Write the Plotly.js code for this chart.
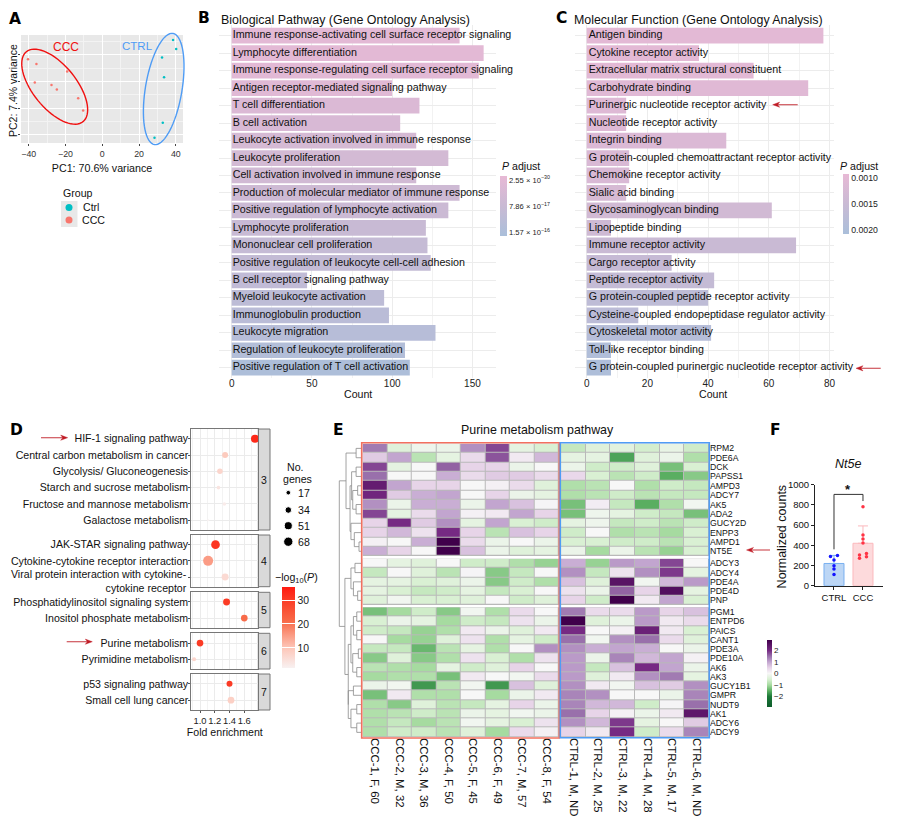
<!DOCTYPE html>
<html><head><meta charset="utf-8">
<script src="https://cdn.plot.ly/plotly-3.0.1.min.js"></script>
<style>html,body{margin:0;padding:0;background:#fff}#g{width:900px;height:825px}</style>
</head><body><div id="g"></div>
<script>
// ---------- Panel A data ----------
const pcaCccX=[-40.4,-35.8,-19.1,-36.7,-27.6,-24.7,-13.1,-10.4];
const pcaCccY=[8.4,6.6,3.8,-0.4,-1.25,-3,-6.25,-10.9];
const pcaCtrlX=[38.5,40.2,32.5,33.6,32.9,28.4];
const pcaCtrlY=[15.6,12.25,9,1.6,-15.5,-21.1];
// ---------- Panel B data ----------
const bpTerms=["Immune response-activating cell surface receptor signaling","Lymphocyte differentiation","Immune response-regulating cell surface receptor signaling","Antigen receptor-mediated signaling pathway","T cell differentiation","B cell activation","Leukocyte activation involved in immune response","Leukocyte proliferation","Cell activation involved in immune response","Production of molecular mediator of immune response","Positive regulation of lymphocyte activation","Lymphocyte proliferation","Mononuclear cell proliferation","Positive regulation of leukocyte cell-cell adhesion","B cell receptor signaling pathway","Myeloid leukocyte activation","Immunoglobulin production","Leukocyte migration","Regulation of leukocyte proliferation","Positive regulation of T cell activation"];
const bpCounts=[142,157,154,100,117,105,115,135,115,142,135,121,122,124,47,95,98,127,108,111];
const bpPadj=[0,0.01,0.02,0.1,0.25,0.32,0.42,0.48,0.55,0.62,0.72,0.8,0.88,0.95,1.02,1.12,1.2,1.3,1.42,1.57];
// ---------- Panel C data ----------
const mfTerms=["Antigen binding","Cytokine receptor activity","Extracellular matrix structural constituent","Carbohydrate binding","Purinergic nucleotide receptor activity","Nucleotide receptor activity","Integrin binding","G protein-coupled chemoattractant receptor activity","Chemokine receptor activity","Sialic acid binding","Glycosaminoglycan binding","Lipopeptide binding","Immune receptor activity","Cargo receptor activity","Peptide receptor activity","G protein-coupled peptide receptor activity","Cysteine-coupled endopeptidase regulator activity","Cytoskeletal motor activity","Toll-like receptor binding","G protein-coupled purinergic nucleotide receptor activity"];
const mfCounts=[78,37,55,73,13,13,46,14,14,13,61,8,69,28,42,40,17,41,8,8];
const mfPadj=[0.001,0.001,0.00102,0.00105,0.0011,0.0011,0.00115,0.0012,0.0012,0.00125,0.00135,0.0014,0.0015,0.00155,0.0016,0.0017,0.00175,0.00185,0.00195,0.002];
// ---------- Panel D data ----------
const keggGroups=["3","4","5","6","7"];
const keggTerms=[["HIF-1 signaling pathway","Central carbon metabolism in cancer","Glycolysis/ Gluconeogenesis","Starch and sucrose metabolism","Fructose and mannose metabolism","Galactose metabolism"],["JAK-STAR signaling pathway","Cytokine-cytokine receptor interaction","Viral protein interaction with cytokine-<br>cytokine receptor"],["Phosphatidylinositol signaling system","Inositol phosphate metabolism"],["Purine metabolism","Pyrimidine metabolism"],["p53 signaling pathway","Small cell lung cancer"]];
const keggFold=[[1.745,1.34,1.27,1.25,1.33,1.11],[1.21,1.11,1.34],[1.36,1.6],[1.0,0.92],[1.4,1.42]];
const keggGenes=[[50,28,24,10,10,3],[59,78,38],[38,35],[35,13],[28,35]];
const keggLogP=[[33,9,7,4,2.5,1.5],[31,15,6],[30,21],[30,7],[30,8]];
const sizeLegend=[17,34,51,68];
// ---------- Panel E data ----------
const sampleCcc=["CCC-1, F, 60","CCC-2, M, 32","CCC-3, M, 36","CCC-4, F, 50","CCC-5, F, 45","CCC-6, F, 49","CCC-7, M, 57","CCC-8, F, 54"];
const sampleCtrl=["CTRL-1, M, ND","CTRL-2, M, 25","CTRL-3, M, 22","CTRL-4, M, 28","CTRL-5, M, 17","CTRL-6, M, ND"];
const genesTop=["RPM2","PDE6A","DCK","PAPSS1","AMPD3","ADCY7","AK5","ADA2","GUCY2D","ENPP3","AMPD1","NT5E"];
const genesMid=["ADCY3","ADCY4","PDE4A","PDE4D","PNP"];
const genesBot=["PGM1","ENTPD6","PAICS","CANT1","PDE3A","PDE10A","AK6","AK3","GUCY1B1","GMPR","NUDT9","AK1","ADCY6","ADCY9"];
const zTop=[
[1.4,-.4,-.15,-.2,1.2,1.8,-.3,-.5,-.7,-.4,-.35,-.55,-.25,-.6],
[.6,1.0,-.8,-.3,.4,1.7,.2,.8,-.3,-.3,-1.6,-.4,-.2,-.9],
[1.8,-.3,0,1.6,.5,.5,-.2,0,-.2,-.6,-.6,-.4,-1.3,-.5],
[1.5,0,0,.9,.4,.6,.6,.4,.45,-.5,-.8,-.6,-1.5,-1.2],
[2.3,1.0,.5,.5,0,.1,.4,-.4,-.9,-.8,0,-.9,-.6,-.7],
[2.1,.6,.9,1.0,0,.5,-.2,-.3,-.9,-.8,-.6,-.8,-.7,-.7],
[1.2,-.2,.9,.9,-.2,1.0,.7,.05,-1.3,.15,-.7,-1.5,-.9,-.1],
[1.8,-.3,.4,1.0,.1,.2,1.0,.5,-1.3,-.15,-.3,-.6,-.7,-1.3],
[.5,2.0,.6,1.2,-.3,1.0,-.5,-.6,-.3,-.15,-.7,-.6,-.8,-.6],
[.5,.8,.3,2.0,.5,-.8,.7,.5,-.6,0,-.9,-.8,-1.0,-.5],
[.1,0,.9,3.2,.4,-.2,0,-.2,-.5,-.5,-.6,-.6,-.8,-.5],
[.9,.5,0,3.0,.7,-.2,-.4,-.3,-.2,-1.0,-.2,-.8,-1.1,-.5]];
const zMid=[
[0,-.3,-.4,0,-.6,-.6,-.9,-1.1,.9,-1.1,1.1,1.0,1.8,0],
[-.7,0,-.4,-.8,.05,-1.2,-.7,0,1.2,-.7,.3,1.2,1.9,-.3],
[-.3,-.3,-.5,-.4,-.2,-1.2,-.6,-.9,.7,-.4,2.5,-.1,.8,1.1],
[-.3,-.5,-.7,-.6,-.3,-.7,-.5,0,.3,-.2,1.6,.5,2.6,-.3],
[-.4,-.1,-.5,-.5,-.4,0,-.6,-.4,.5,-.6,3.4,.2,1.0,-.5]];
const zBot=[
[-1.3,-1.0,-.6,-1.2,-.1,-.9,.4,0,1.4,.4,.4,1.1,.5,.7],
[-.5,-.2,-.3,-1.0,-.6,-.7,.3,-.2,3.3,-.4,-.2,1.1,.2,.4],
[-.6,-.7,-1.1,-.9,.2,-.2,-.4,.2,2.0,0,.1,2.2,.2,-.5],
[0,-1.0,-1.1,-.4,.3,-.9,-.3,-.6,1.5,-.1,1.2,1.5,.4,-.4],
[-.7,-.7,-1.4,-.8,-.3,-.9,0,1.2,1.2,.9,1.0,.9,0,-.2],
[-1.2,-.4,-1.2,-.9,.3,-.5,-.9,.3,1.1,-.2,1.3,.8,1.0,.1],
[-.8,-.9,-1.0,-.3,-.6,-.4,.5,0,1.1,-.7,.7,2.0,1.0,-.2],
[-1.0,-.9,-.9,-1.3,.2,0,-.1,.4,1.1,-.4,.2,1.2,1.4,-.3],
[-.2,-.1,-1.7,-.8,-.1,-1.7,.7,-.4,1.2,.2,-.1,.7,.6,1.2],
[-1.3,.2,-.9,-.9,0,-1.0,-.2,.2,1.3,1.2,0,0,-.2,1.3],
[-.9,-1.2,-.4,-.8,-.7,-.3,.5,-.2,1.3,.8,.8,-.6,.05,1.5],
[-.9,-.8,-.6,-.8,-.2,-.3,-.1,-.2,1.5,.5,.1,-.2,.2,2.4],
[-.9,-.7,-1.0,-.8,-.1,-.3,-.5,.3,1.2,.8,1.9,-.3,0,.6],
[-.9,-.6,-.6,-.8,-.4,-1.0,.4,.1,.5,.2,2.0,-.6,.4,1.3]];
// dendrogram: [merge height, child, child]; a number is a row index
const rowTree=[100,
 [70,[25,0,1],
  [52,[45,[25,2,3],[40,[18,4,5],[25,6,7]]],
      [48,8,[33,9,[12,10,11]]]]],
 [75,
  [48,[30,12,13],[37,14,[18,15,16]]],
  [60,[48,[37,[22,17,18],[22,19,20]],[40,[15,21,22],[22,23,24]]],
      [60,[37,25,26],[48,[22,27,28],[22,29,30]]]]]];
// ---------- Panel F data ----------
const nt5eGroups=["CTRL","CCC"];
const nt5eMeans=[220,420];
const nt5eSd=[80,172];
const nt5eCtrl=[112,165,198,254,290,300];
const nt5eCcc=[782,502,462,422,320,304,287,271];
const nt5eCtrlJit=[0,0,0,0,-0.12,0.12];
const nt5eCccJit=[0,0,0,0,0.12,-0.12,0.12,-0.12];

// ---------- page geometry helpers ----------
const W=900,H=825,FONT='"Liberation Sans", Arial, sans-serif';
const dx=(a,b)=>[a/W,b/W], dy=(t,b)=>[1-b/H,1-t/H];
const RED='#bf1a24';
const traces=[],shapes=[],anns=[];
const txt=(text,x,y,o={})=>anns.push(Object.assign({text,x,y,xref:'x12',yref:'y13',showarrow:false,
  xanchor:'center',yanchor:'middle',font:{family:FONT,size:10.6,color:'#111'}},o));
const letter=(t,x,y)=>txt(t,x,y,{font:{family:'"DejaVu Sans"',size:15.5,color:'#000',weight:700}});
function arrow(x0,y,x1){
  const d=Math.sign(x1-x0),hl=7,hw=2.6;
  shapes.push({type:'line',xref:'x12',yref:'y13',x0,x1:x1-d*hl*.6,y0:y,y1:y,line:{color:'#d0555c',width:1.2}});
  shapes.push({type:'path',xref:'x12',yref:'y13',path:`M ${x1} ${y} L ${x1-d*hl} ${y-hw} L ${x1-d*hl*.7} ${y} L ${x1-d*hl} ${y+hw} Z`,
    fillcolor:RED,line:{color:RED,width:.4}});
}
const rectBelow=(x0,y0,x1,y1,fill,line)=>shapes.push({type:'rect',xref:'paper',yref:'paper',layer:'below',
  x0:x0/W,x1:x1/W,y0:1-y0/H,y1:1-y1/H,fillcolor:fill,line:{width:line?1:0,color:line||fill}});
const rectAbove=(x0,y0,x1,y1,color,width)=>shapes.push({type:'rect',xref:'x12',yref:'y13',x0,x1,y0,y1,
  fillcolor:'rgba(0,0,0,0)',line:{color,width}});
function ellipse(cx,cy,a,b,deg,color,width){
  const t=deg*Math.PI/180;let p='';
  for(let i=0;i<72;i++){const s=i/72*2*Math.PI,ex=a*Math.cos(s),ey=b*Math.sin(s);
    p+=(i?'L':'M')+(cx+ex*Math.cos(t)-ey*Math.sin(t)).toFixed(2)+' '+(cy+ex*Math.sin(t)+ey*Math.cos(t)).toFixed(2)+' ';}
  shapes.push({type:'path',path:p+'Z',xref:'x12',yref:'y13',line:{color,width},fillcolor:'rgba(0,0,0,0)'});
}
const L={margin:{l:0,r:0,t:0,b:0,pad:0},width:W,height:H,paper_bgcolor:'#fff',plot_bgcolor:'rgba(0,0,0,0)',
  showlegend:false,hovermode:false,font:{family:FONT,size:10.6,color:'#111'}};
// overlay axes in page pixels, for annotations, keys and dendrogram
L.xaxis12={domain:[0,1],range:[0,W],visible:false,fixedrange:true,anchor:'y13'};
L.yaxis13={domain:[0,1],range:[H,0],visible:false,fixedrange:true,anchor:'x12'};

// ---------- A ----------
rectBelow(21,35,183,143,'#e8e8e8');
L.xaxis={domain:dx(21,183),range:[-44.2,43.9],anchor:'y',tickvals:[-40,-20,0,20,40],ticks:'outside',ticklen:2,tickcolor:'#444',
  tickfont:{size:8.8,color:'#333'},gridcolor:'#fff',gridwidth:1,zeroline:false,minor:{dtick:10,showgrid:true,gridcolor:'#f3f3f3',gridwidth:.5},
  title:{text:'PC1: 70.6% variance',font:{size:10.7},standoff:6}};
L.yaxis={domain:dy(35,143),range:[-23.1,17.5],anchor:'x',tickvals:[-20,-10,0,10],ticks:'outside',ticklen:2,tickcolor:'#444',showticklabels:false,
  gridcolor:'#fff',zeroline:false,minor:{dtick:5,showgrid:true,gridcolor:'#f3f3f3',gridwidth:.5}};
txt('PC2: 7.4% variance',13,91,{textangle:-90,font:{family:FONT,size:10.5,color:'#111'}});
traces.push({type:'scatter',mode:'markers',x:pcaCccX,y:pcaCccY,marker:{size:2.5,color:'#f8766d'},xaxis:'x',yaxis:'y',name:'CCC'});
traces.push({type:'scatter',mode:'markers',x:pcaCtrlX,y:pcaCtrlY,marker:{size:2.5,color:'#00bfc4'},xaxis:'x',yaxis:'y',name:'Ctrl'});
ellipse(54.7,86.7,45,21.7,51,'#f01010',1.4);
ellipse(163.7,89,56.3,18.3,-80.5,'#4f9cf5',1.4);
txt('CCC',65.7,47,{font:{family:FONT,size:12,color:'#f01010'}});
txt('CTRL',137,46,{font:{family:FONT,size:11.5,color:'#4f9cf5'}});
rectBelow(61,201,77.5,227,'#e8e8e8');
traces.push({type:'scatter',mode:'markers',x:[69,69],y:[207.5,220],marker:{size:7,color:['#00bfc4','#f8766d'],opacity:1},xaxis:'x12',yaxis:'y13'});
txt('Group',61,193,{xanchor:'left'});
txt('Ctrl',81,207,{xanchor:'left'});
txt('CCC',80,220,{xanchor:'left'});
letter('A',15,19);

// ---------- B and C ----------
function goPanel(n,terms,counts,padj,left,right,range,ticks,minor,ca,textGapPx){
  const xa='xaxis'+n,ya='yaxis'+n,xid='x'+n,yid='y'+n;
  const pxPerUnit=(right-left)/(range[1]-range[0]);
  L[xa]={domain:dx(left,right),range,anchor:yid,tickvals:ticks,ticks:'',tickfont:{size:10,color:'#222'},ticklabelstandoff:-2,
    gridcolor:'#ececec',gridwidth:1,zeroline:false,minor:{dtick:minor,showgrid:true,gridcolor:'#f2f2f2',gridwidth:.7}};
  L[ya]={domain:dy(25.2,378.2),type:'category',categoryorder:'array',categoryarray:terms,range:[19.6,-0.6],anchor:xid,
    showticklabels:false,ticks:'',gridcolor:'#ececec',gridwidth:1,zeroline:false};
  // colour is driven by the negated adjusted P so the colour bar reads small values at the top
  traces.push({type:'bar',orientation:'h',x:counts,y:terms,width:.9,xaxis:xid,yaxis:yid,
    marker:{color:padj.map(v=>-v),coloraxis:ca,line:{width:0}}});
  traces.push({type:'scatter',mode:'text',x:terms.map(()=>textGapPx/pxPerUnit),y:terms,text:terms,textposition:'middle right',
    textfont:{size:10.7,color:'#111',family:FONT},cliponaxis:false,xaxis:xid,yaxis:yid});
}
goPanel(2,bpTerms,bpCounts,bpPadj,219,496,[-7.9,164.7],[0,50,100,150],25,'coloraxis',1);
goPanel(3,mfTerms,mfCounts,mfPadj,575,834.3,[-3.86,81.6],[0,20,40,60,80],10,'coloraxis2',2);
txt('Count',358,393.5);
txt('Count',712.7,393.5);
const cbBase=(x,top,len,th)=>({thicknessmode:'pixels',thickness:th,lenmode:'pixels',len,x:x/W,xanchor:'left',y:1-top/H,yanchor:'top',
  xpad:0,ypad:0,outlinewidth:0,ticks:'',tickfont:{size:7.6,color:'#222'}});
const goScale=[[0,'#aabfda'],[.5,'#c9bad4'],[1,'#e7b9d5']];
L.coloraxis={cmin:-1.67,cmax:0.12,colorscale:goScale,
  colorbar:Object.assign(cbBase(500.3,176,60,7.3),{tickvals:[0,-0.786,-1.57],ticktext:['2.55 × 10<sup>−30</sup>','7.86 × 10<sup>−17</sup>','1.57 × 10<sup>−16</sup>']})};
L.coloraxis2={cmin:-0.00208,cmax:-0.00092,colorscale:goScale,
  colorbar:Object.assign(cbBase(842.7,174,60,6.3),{tickvals:[-0.001,-0.0015,-0.002],ticktext:['0.0010','0.0015','0.0020']})};
L.coloraxis2.colorbar.tickfont.size=8.7;
txt('<i>P</i> adjust',500,166,{xanchor:'left'});
txt('<i>P</i> adjust',838,166,{xanchor:'left'});
txt('Biological Pathway (Gene Ontology Analysis)',219,19.5,{xanchor:'left',font:{family:FONT,size:12.45,color:'#111'}});
txt('Molecular Function (Gene Ontology Analysis)',572,19.5,{xanchor:'left',font:{family:FONT,size:12.4,color:'#111'}});
letter('B',204,18);letter('C',561,18);
arrow(797.7,104.7,772.7);
arrow(880.7,368.3,856);

// ---------- D ----------
const dBoxes=[[429,530],[535,586.7],[592.3,627.7],[633.3,669],[674,710]];
const sizeOf=c=>1.13*Math.sqrt(c);
keggGroups.forEach((g,i)=>{
  const xn=4+i,yn=4+i,n=keggTerms[i].length,last=i===keggGroups.length-1;
  L['xaxis'+xn]={domain:dx(191.3,258.3),range:[0.882,1.79],anchor:'y'+yn,tickvals:[1,1.2,1.4,1.6],ticktext:['1.0','1.2','1.4','1.6'],tickangle:0,
    showticklabels:last,ticks:last?'outside':'',ticklen:2,tickcolor:'#555',tickfont:{size:9.4,color:'#222'},gridcolor:'#ebebeb',zeroline:false,
    showline:true,mirror:true,linecolor:'#777',linewidth:1,minor:{dtick:.1,showgrid:true,gridcolor:'#f3f3f3',gridwidth:.6}};
  // two-line label of the viral term is set as a note just below, as in the original, to clear its neighbour
  const labels=keggTerms[i].map(t=>t.includes('<br>')?' ':t);
  L['yaxis'+yn]={domain:dy(dBoxes[i][0],dBoxes[i][1]),type:'category',categoryorder:'array',categoryarray:keggTerms[i],range:[n-.4,-.6],anchor:'x'+xn,
    tickmode:'array',tickvals:keggTerms[i],ticktext:labels,ticks:'outside',ticklen:2,tickcolor:'#555',ticklabelstandoff:-2,tickfont:{size:10.6,color:'#111'},gridcolor:'#ebebeb',zeroline:false,
    showline:true,mirror:true,linecolor:'#777',linewidth:1};
  keggTerms[i].filter(t=>t.includes('<br>')).forEach(t=>txt(t,188.5,580.7,{xanchor:'right',align:'right'}));
  traces.push({type:'scatter',mode:'markers',x:keggFold[i],y:keggTerms[i],xaxis:'x'+xn,yaxis:'y'+yn,cliponaxis:false,
    marker:{size:keggGenes[i].map(sizeOf),sizemode:'diameter',opacity:1,color:keggLogP[i],coloraxis:'coloraxis3',line:{width:0}}});
  rectBelow(258.3,dBoxes[i][0],270,dBoxes[i][1],'#d9d9d9','#777');
  txt(g,264.2,(dBoxes[i][0]+dBoxes[i][1])/2,{font:{family:FONT,size:10.5,color:'#111'}});
});
L.xaxis8.title={text:'Fold enrichment',font:{size:10.6},standoff:1};
L.coloraxis3={cmin:1.5,cmax:35.3,colorscale:[[0,'#f8f1f1'],[.25,'#fdc6b8'],[.58,'#f86a48'],[.85,'#fb3a24'],[1,'#ff1a10']],
  colorbar:Object.assign(cbBase(282,587.3,81,13),{tickvals:[10,20,30],ticks:'inside',ticklen:13,tickcolor:'#fff',tickwidth:1,tickfont:{size:10.4,color:'#222'}})};
txt('No.',295,467);txt('genes',297,479);
traces.push({type:'scatter',mode:'markers',x:sizeLegend.map(()=>288.3),y:[492.7,510,525.7,541.7],xaxis:'x12',yaxis:'y13',
  marker:{size:sizeLegend.map(sizeOf),sizemode:'diameter',opacity:1,color:'#000'}});
sizeLegend.forEach((c,i)=>txt(String(c),296,[493,510,526,542][i],{xanchor:'left'}));
txt('−log<sub>10</sub>(<i>P</i>)',296.5,578);
letter('D',16,430);
arrow(41,437.7,67.7);
arrow(66.7,641.7,92.3);

// ---------- E ----------
const stops=[[-2.9,'#0d5c2b'],[-2,'#1b7837'],[-1.5,'#5aae61'],[-1,'#a6dba0'],[-.5,'#d9f0d3'],[0,'#f7f7f7'],[.5,'#e7d4e8'],[1,'#c2a5cf'],[1.5,'#9970ab'],[2,'#762a83'],[2.9,'#40004b']];
L.coloraxis4={cmin:-2.9,cmax:2.9,colorscale:stops.map(s=>[(s[0]+2.9)/5.8,s[1]]),
  colorbar:Object.assign(cbBase(766.7,640,66.7,4.6),{tickvals:[-2,-1,0,1,2],tickfont:{size:8,color:'#222'}})};
const colBlocks=[{x:[362.7,559],names:sampleCcc,from:0,to:8,id:9},{x:[561,709],names:sampleCtrl,from:8,to:14,id:10}];
const rowBlocks=[{y:[443.7,556],names:genesTop,z:zTop,id:9},{y:[558.7,605],names:genesMid,z:zMid,id:10},{y:[607.3,737],names:genesBot,z:zBot,id:11}];
colBlocks.forEach(c=>{
  L['xaxis'+c.id]={domain:dx(c.x[0],c.x[1]),anchor:'y11',tickangle:90,ticks:'',showgrid:false,zeroline:false,ticklabelstandoff:0,tickfont:{size:11.4,color:'#111'}};
});
rowBlocks.forEach(r=>{
  L['yaxis'+r.id]={domain:dy(r.y[0],r.y[1]),anchor:'x10',side:'right',autorange:'reversed',ticks:'',showgrid:false,zeroline:false,tickfont:{size:8.7,color:'#111'},dtick:1};
  colBlocks.forEach(c=>{
    rectBelow(c.x[0],r.y[0],c.x[1],r.y[1],'#b9b9b9');
    traces.push({type:'heatmap',x:c.names,y:r.names,z:r.z.map(row=>row.slice(c.from,c.to)),coloraxis:'coloraxis4',xgap:1,ygap:1,
      xaxis:'x'+c.id,yaxis:'y'+r.id,hoverinfo:'skip'});
  });
});
rectAbove(361.7,442.7,559.3,738,'#f2705f',1.6);
rectAbove(560.3,442.7,709.3,737.7,'#4f9cf5',1.6);
txt('Purine metabolism pathway',537,430,{font:{family:FONT,size:12.4,color:'#111'}});
letter('E',338,430);
arrow(770,550,746.5);
// dendrogram built from the merge tree
const rowTop=i=>{let k=i;for(const r of rowBlocks){const n=r.names.length;if(k<n)return r.y[0]+(k+.5)*(r.y[1]-r.y[0])/n;k-=n;}};
const hX=h=>361.7-h/100*22.4,dendX=[],dendY=[];
(function walk(node){
  if(typeof node==='number')return {y:rowTop(node),h:0};
  const a=walk(node[1]),b=walk(node[2]),h=node[0];
  dendX.push(hX(a.h),hX(h),hX(h),hX(b.h),null);dendY.push(a.y,a.y,b.y,b.y,null);
  return {y:(a.y+b.y)/2,h};
})(rowTree);
traces.push({type:'scatter',mode:'lines',x:dendX,y:dendY,line:{color:'#8a8a8a',width:.8},xaxis:'x12',yaxis:'y13'});

// ---------- F ----------
L.xaxis11={domain:dx(815,882.7),range:[-0.655,1.68],anchor:'y12',tickvals:[0,1],ticktext:nt5eGroups,ticks:'outside',ticklen:3,tickcolor:'#222',
  showgrid:false,zeroline:false,showline:true,linecolor:'#222',linewidth:1,tickfont:{size:9.5,color:'#111'}};
L.yaxis12={domain:dy(484.7,585.7),range:[0,1000],anchor:'x11',tickvals:[0,200,400,600,800,1000],ticks:'outside',ticklen:3,tickcolor:'#222',
  showgrid:false,zeroline:false,showline:true,linecolor:'#222',linewidth:1,tickfont:{size:9.5,color:'#111'}};
txt('Normalized counts',781.7,536.7,{textangle:-90,font:{family:FONT,size:12.5,color:'#111'}});
[[0,'#bcd6f5','#7ab0f0'],[1,'#fddadc','#fbb9bd']].forEach(([i,fill,line])=>{
  traces.push({type:'bar',x:[i],y:[nt5eMeans[i]],width:.69,xaxis:'x11',yaxis:'y12',marker:{color:fill,line:{color:line,width:1}},
    error_y:{type:'data',array:[nt5eSd[i]],arrayminus:[0],symmetric:false,color:line,thickness:1,width:5}});
});
traces.push({type:'scatter',mode:'markers',x:nt5eCtrlJit,y:nt5eCtrl,xaxis:'x11',yaxis:'y12',marker:{size:3.5,color:'#1414ff'}});
traces.push({type:'scatter',mode:'markers',x:nt5eCccJit.map(v=>1+v),y:nt5eCcc,xaxis:'x11',yaxis:'y12',marker:{size:3.5,color:'#ff3344'}});
shapes.push({type:'path',xref:'x11',yref:'y12',path:'M 0 360 L 0 904 L 1 904 L 1 838',line:{color:'#333',width:1}});
txt('*',848,489.5,{font:{family:FONT,size:13,weight:700,color:'#111'}});
txt('<i>Nt5e</i>',848,464,{font:{family:FONT,size:12.5,color:'#111'}});
letter('F',775,430);

L.shapes=shapes;L.annotations=anns;
Plotly.newPlot('g',traces,L,{displayModeBar:false,responsive:false});
</script></body></html>
